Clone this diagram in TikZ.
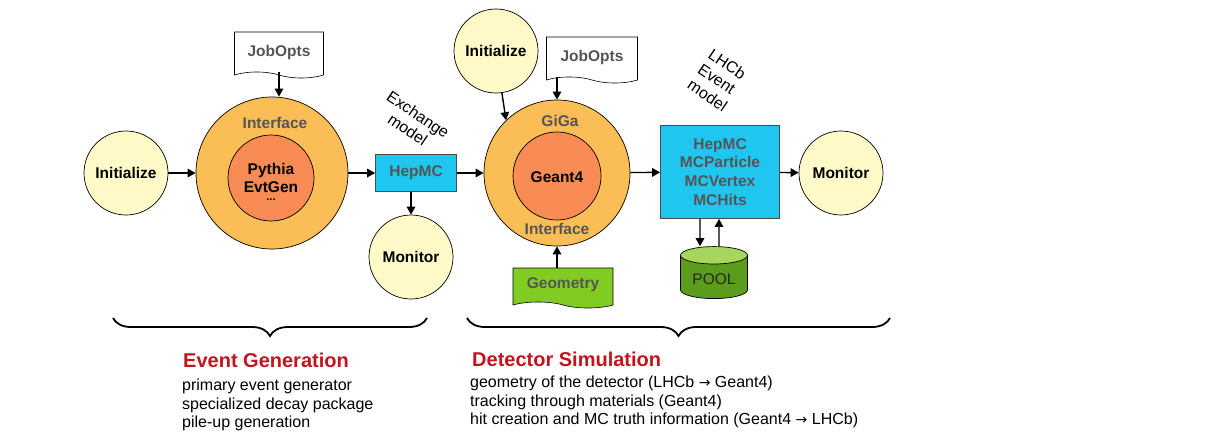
\documentclass[tikz,border=0pt]{standalone}
\usepackage{fontspec}
\setmainfont{Liberation Sans}
\newfontfamily\arrowfont{DejaVu Sans}
\usetikzlibrary{arrows.meta,shapes.geometric,shapes.symbols,decorations.pathreplacing}
\definecolor{cream}{HTML}{FFFAC8}
\definecolor{shellorange}{HTML}{FBBD55}
\definecolor{coreorange}{HTML}{F98B55}
\definecolor{hepblue}{HTML}{1FC6F0}
\definecolor{geomgreen}{HTML}{80CC22}
\definecolor{poolbody}{HTML}{5C9C1C}
\definecolor{pooltop}{HTML}{A6D65C}
\definecolor{labelgray}{HTML}{555555}
\definecolor{titlered}{HTML}{C0141E}
\newcommand{\gives}{{\arrowfont\fontsize{14}{16}\selectfont →}}
\tikzset{
  lbl/.style={font=\fontsize{15.5}{18.7}\selectfont\bfseries,inner sep=0pt},
  ball/.style={circle,draw=black,line width=0.7pt,fill=cream,minimum size=84pt,inner sep=0pt,lbl},
  shell/.style={circle,draw=black,line width=0.7pt,fill=shellorange,inner sep=0pt},
  core/.style={circle,draw=black,line width=0.7pt,fill=coreorange,inner sep=0pt},
  datbox/.style={rectangle,draw=black!70,line width=0.7pt,fill=hepblue,lbl,text=labelgray,align=center},
  docbox/.style={tape,tape bend top=none,tape bend bottom=out and in,tape bend height=6pt,draw=black,line width=0.6pt,fill=white,lbl,text=labelgray},
  arr/.style={-{Triangle[length=8pt,width=8.5pt]},line width=1.4pt},
  tilted/.style={font=\fontsize{16}{18.5}\selectfont,rotate=-34,inner sep=0pt},
  title/.style={font=\fontsize{20}{22}\selectfont\bfseries,text=titlered,anchor=base west,inner sep=0pt},
  desc/.style={font=\fontsize{16}{18.4}\selectfont,align=left,anchor=north west,inner sep=0pt},
  curly/.style={decorate,decoration={brace,mirror,amplitude=18pt},line width=1.8pt}
}
\begin{document}
\begin{tikzpicture}[x=1pt,y=-1pt]
      \useasboundingbox (0,0) rectangle (1210,447);
      \node[ball] (initL) at (126,173) {Initialize};
      \node[shell,minimum size=152pt] (genL) at (272,173) {};
      \node[core,minimum size=86pt] (genCore) at (271,178) {};
      \node[lbl,align=center] (pythia) at (271,178) {Pythia\\EvtGen};
      \node[lbl,font=\fontsize{11}{12}\selectfont\bfseries] (dots) at (271,200) {...};
      \node[lbl,text=labelgray] (ifaceL) at (275,123) {Interface};
      \node[docbox,minimum width=89pt,minimum height=46pt] (jobL) at (279,52) {JobOpts};
      \node[datbox,minimum width=81pt,minimum height=37pt] (hep) at (416,173) {HepMC};
      \node[tilted,align=center] (xchg) at (413,122) {Exchange\\model};
      \node[ball] (monL) at (411,257) {Monitor};
      \node[ball] (initR) at (496,51) {Initialize};
      \node[docbox,minimum width=91pt,minimum height=46pt] (jobR) at (592,57) {JobOpts};
      \node[shell,minimum size=146pt] (simR) at (557,173) {};
      \node[core,minimum size=88pt] (simCore) at (557,176) {};
      \node[lbl] (geant) at (557,177) {Geant4};
      \node[lbl,text=labelgray] (giga) at (560,121) {GiGa};
      \node[lbl,text=labelgray] (ifaceR) at (557,229) {Interface};
      \node[docbox,fill=geomgreen,minimum width=100pt,minimum height=40pt] (geo) at (563,285) {Geometry};
      \node[datbox,minimum width=119pt,minimum height=93pt] (evt) at (720,172) {HepMC\\MCParticle\\MCVertex\\MCHits};
      \node[tilted,align=left] (lhcb) at (718,80) {LHCb\\Event\\model};
      \node[ball] (monR) at (841,173) {Monitor};
      \node[cylinder,shape border rotate=90,aspect=0.35,minimum width=67pt,minimum height=52pt,draw=black,line width=0.7pt,
        cylinder uses custom fill,cylinder body fill=poolbody,cylinder end fill=pooltop,
        font=\fontsize{15.5}{18}\selectfont,text=black!85] (pool) at (714,279) {POOL};
      \begin{scope}[arr]
        \draw (initL) to (genL);
        \draw (jobL.south) to (jobL.south |- genL.north);
        \draw (genL) to (hep);
        \draw (hep.south -| monL) to (monL);
        \draw (hep) to (simR);
        \draw (initR.-82) to (simR.134);
        \draw (jobR.south -| simR) to (simR.north);
        \draw (geo.north -| simR) to (simR.south);
        \draw (simR) to (evt);
        \draw (evt) to (monR);
        \draw ([xshift=-20pt]evt.south) to ([xshift=-14pt]pool.north);
        \draw ([xshift=5pt]pool.north) to ([xshift=-1pt]evt.south);
      \end{scope}
      \draw[curly] (113,318) -- (427,318);
      \draw[curly] (467,318) -- (890,318);
      \node[title] (genTitle) at (183,367) {Event Generation};
      \node[desc] (genText) at (182,379) {primary event generator\\specialized decay package\\pile-up generation};
      \node[title] (simTitle) at (472,366) {Detector Simulation};
      \node[desc] (simText) at (470,376) {geometry of the detector (LHCb \gives{} Geant4)\\tracking through materials (Geant4)\\hit creation and MC truth information (Geant4 \gives{} LHCb)};
    \end{tikzpicture}
\end{document}
